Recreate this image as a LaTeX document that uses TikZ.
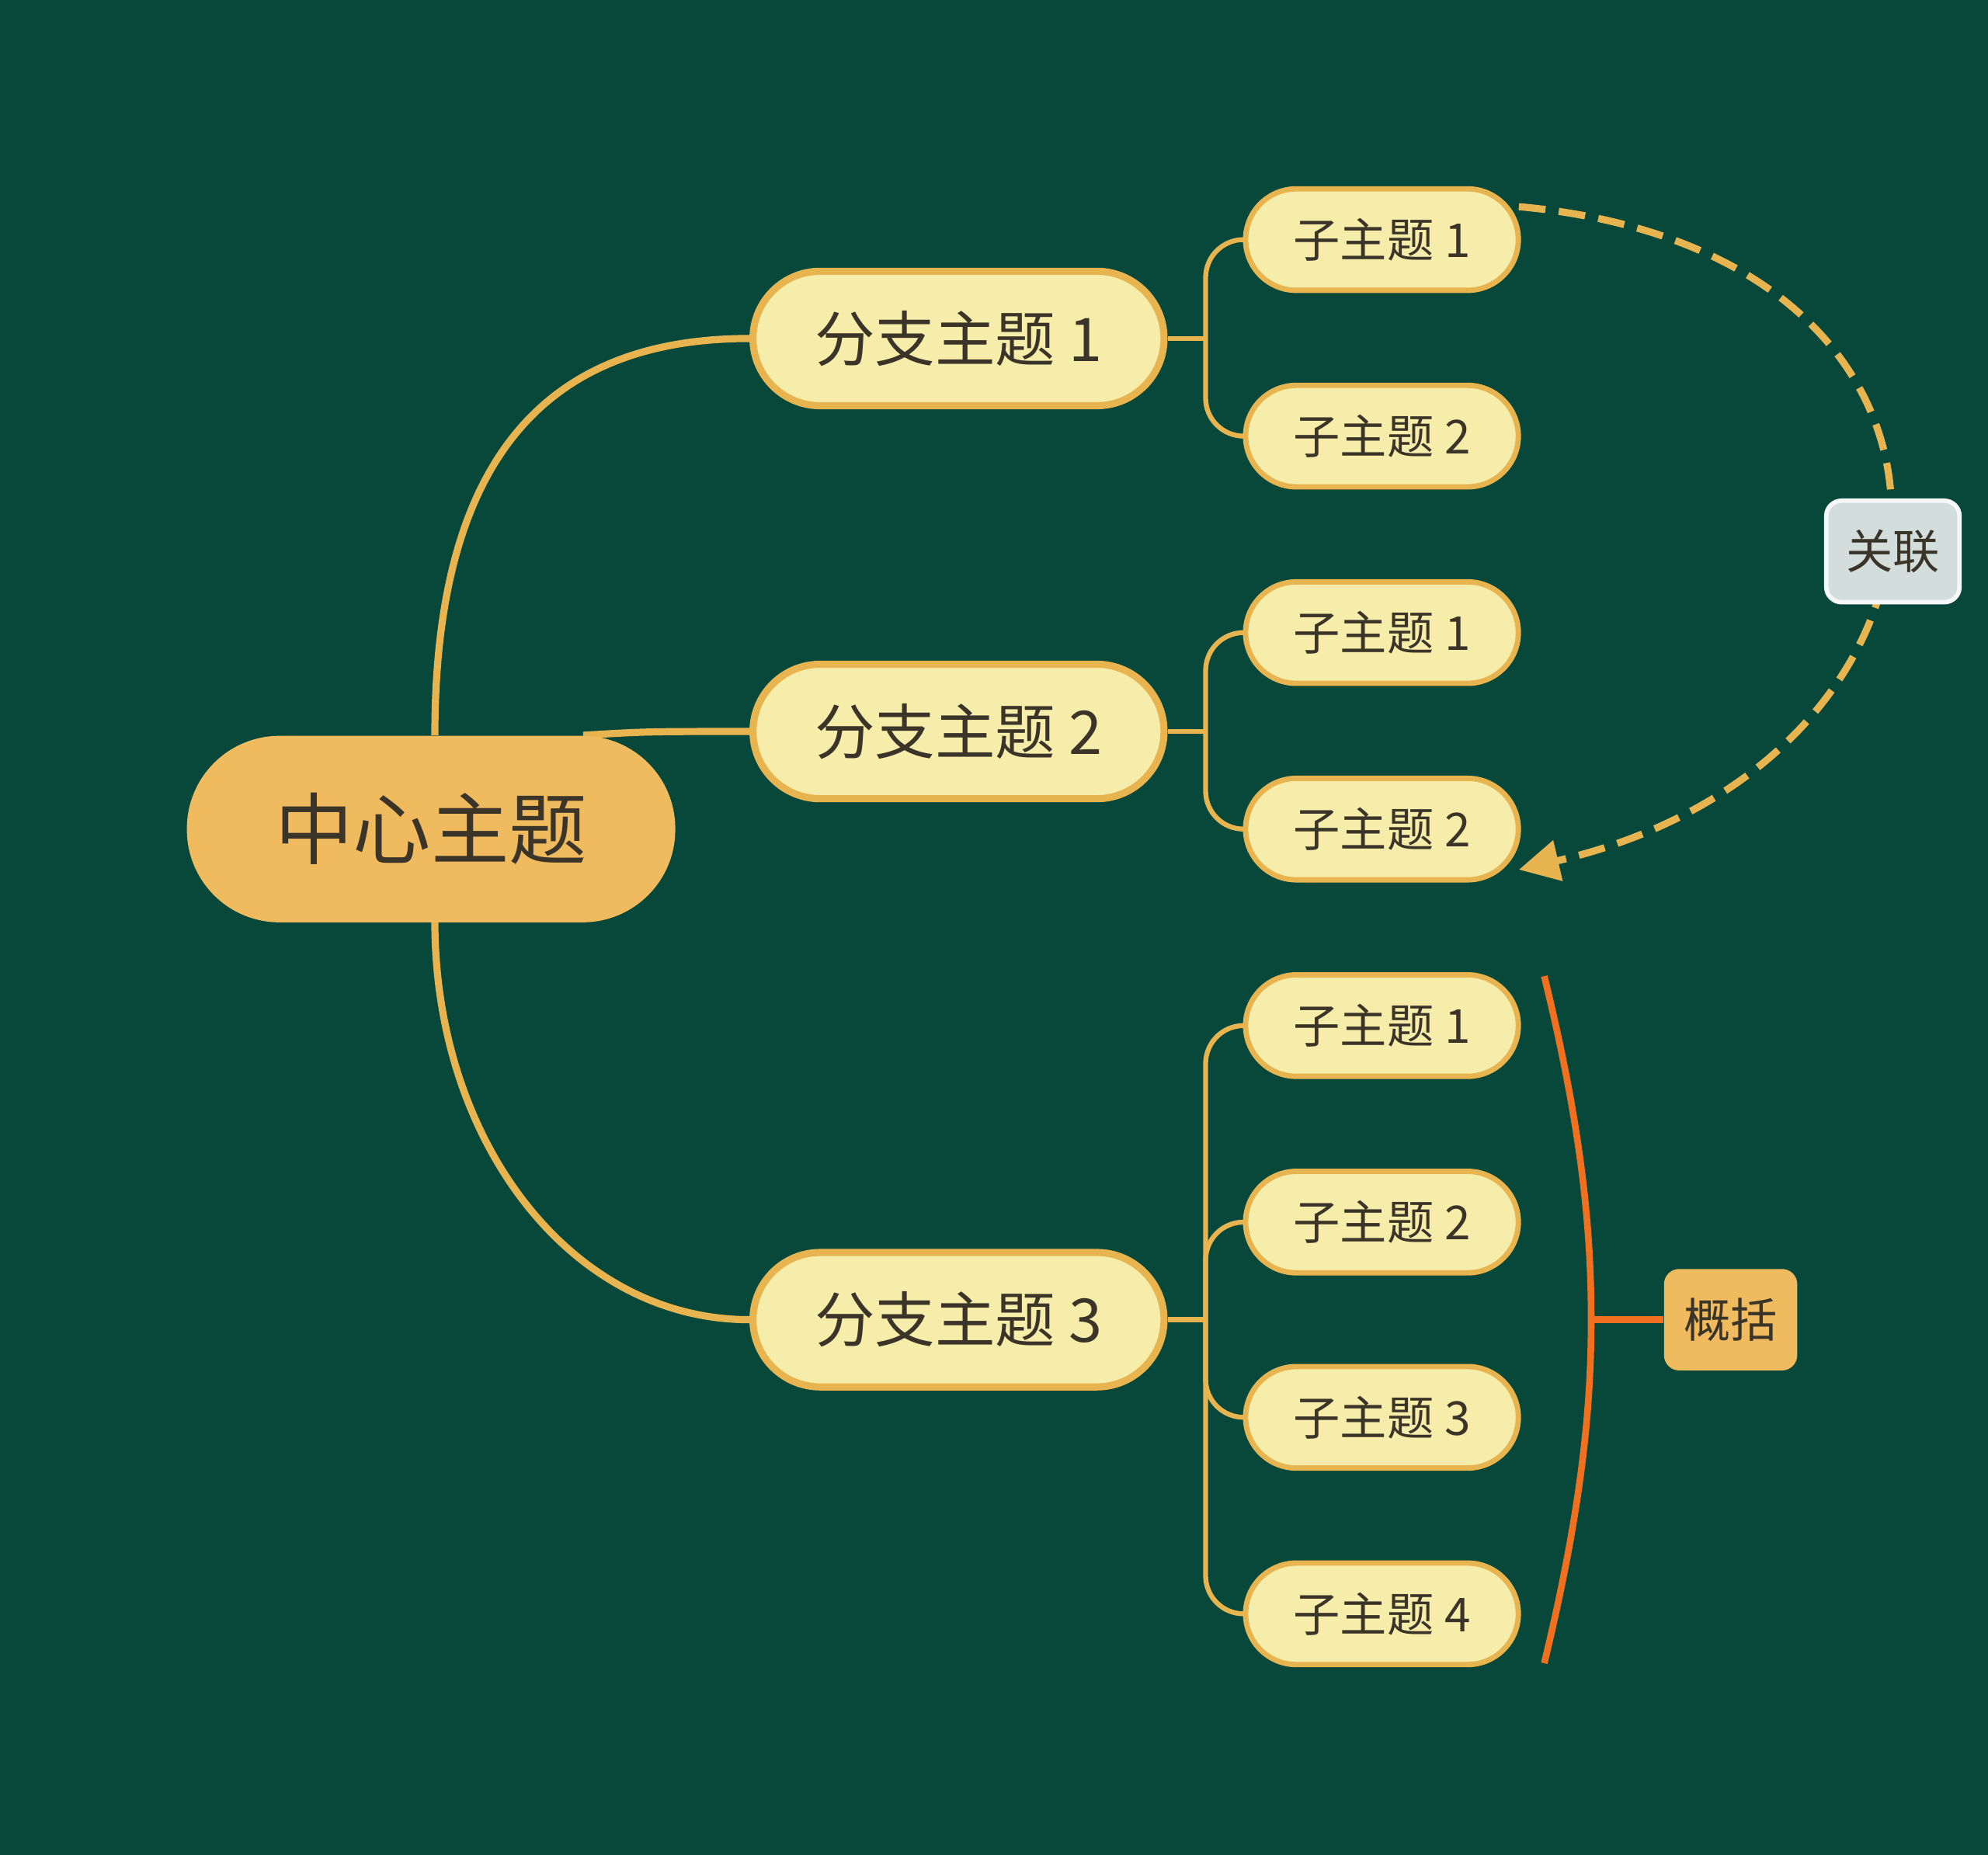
\documentclass[tikz,border=0pt]{standalone}
\usepackage{fontspec}
\setmainfont{Noto Sans CJK SC}
\usetikzlibrary{arrows.meta}
\definecolor{bg}{HTML}{08483A}
\definecolor{gold}{HTML}{F0BA5E}
\definecolor{pale}{HTML}{F7EDAA}
\definecolor{edge}{HTML}{E8B450}
\definecolor{txt}{HTML}{3A3528}
\definecolor{org}{HTML}{F07020}
\definecolor{rel}{HTML}{D3DEDC}
\tikzset{
 central/.style={fill=gold,rounded corners=0.73cm,minimum width=3.85cm,minimum height=1.47cm,text=txt,font=\fontsize{17.5}{20}\selectfont,inner sep=0},
 branch/.style={fill=pale,draw=edge,line width=1.6pt,rounded corners=0.53cm,minimum width=3.24cm,minimum height=1.06cm,text=txt,font=\fontsize{13.5}{16}\selectfont,inner sep=0},
 sub/.style={fill=pale,draw=edge,line width=1.2pt,rounded corners=0.4cm,minimum width=2.15cm,minimum height=0.8cm,text=txt,font=\fontsize{10.5}{12}\selectfont,inner sep=0},
 conn/.style={draw=edge,line width=1.6pt},
 sconn/.style={draw=edge,line width=1.1pt,rounded corners=0.3cm},
 box/.style={rounded corners=0.12cm,minimum width=1.05cm,minimum height=0.8cm,text=txt,font=\fontsize{10.5}{12}\selectfont,inner sep=0}
}
\begin{document}
\begin{tikzpicture}[x=0.01cm,y=-0.01cm]
\fill[bg] (0,0) rectangle (1568,1463);
\useasboundingbox (0,0) rectangle (1568,1463);
\coordinate (ct) at (343,580);
\coordinate (cb) at (343,727);
\coordinate (cr) at (460,580);
\node[branch] (b1) at (756,267) {分支主题 1};
\node[branch] (b2) at (756,577) {分支主题 2};
\node[branch] (b3) at (756,1041) {分支主题 3};
\draw[conn] (ct) .. controls (343,340) and (450,267) .. (b1.west);
\draw[conn] (cr) .. controls (510,577) .. (b2.west);
\draw[conn] (cb) .. controls (343,900) and (450,1041) .. (b3.west);
\node[central] (c) at (340,654) {中心主题};
\foreach \n/\y/\t in {s1/189/1,s2/344/2,s3/499/1,s4/654/2,s5/809/1,s6/964/2,s7/1118/3,s8/1273/4}
  \node[sub] (\n) at (1090,\y) {子主题 \t};
\foreach \b/\a/\z in {b1/s1/s2,b2/s3/s4,b3/s5/s8,b3/s6/s7}{
  \draw[sconn] (\b.east) -- ++(30,0) coordinate (m);
  \draw[sconn] (\a.west) -| (m) |- (\z.west);
}
\coordinate (rs) at (1198,163);
\coordinate (re) at (1198,686);
\draw[edge,line width=1.6pt,dash pattern=on 6pt off 3pt,-{Triangle[length=9pt,width=9pt]}]
  (rs) .. controls (1600,200) and (1570,600) .. (re);
\node[box,fill=rel,draw=white!80!rel,line width=1pt] (r) at (1493,435) {关联};
\node[box,fill=gold] (g) at (1365,1041) {概括};
\draw[org,line width=1.5pt] (1218,770) .. controls (1250,900) and (1255,980) .. (1255,1041) .. controls (1255,1100) and (1250,1180) .. (1218,1312);
\draw[org,line width=1.5pt] (1255,1041) -- (g.west);
\end{tikzpicture}
\end{document}
